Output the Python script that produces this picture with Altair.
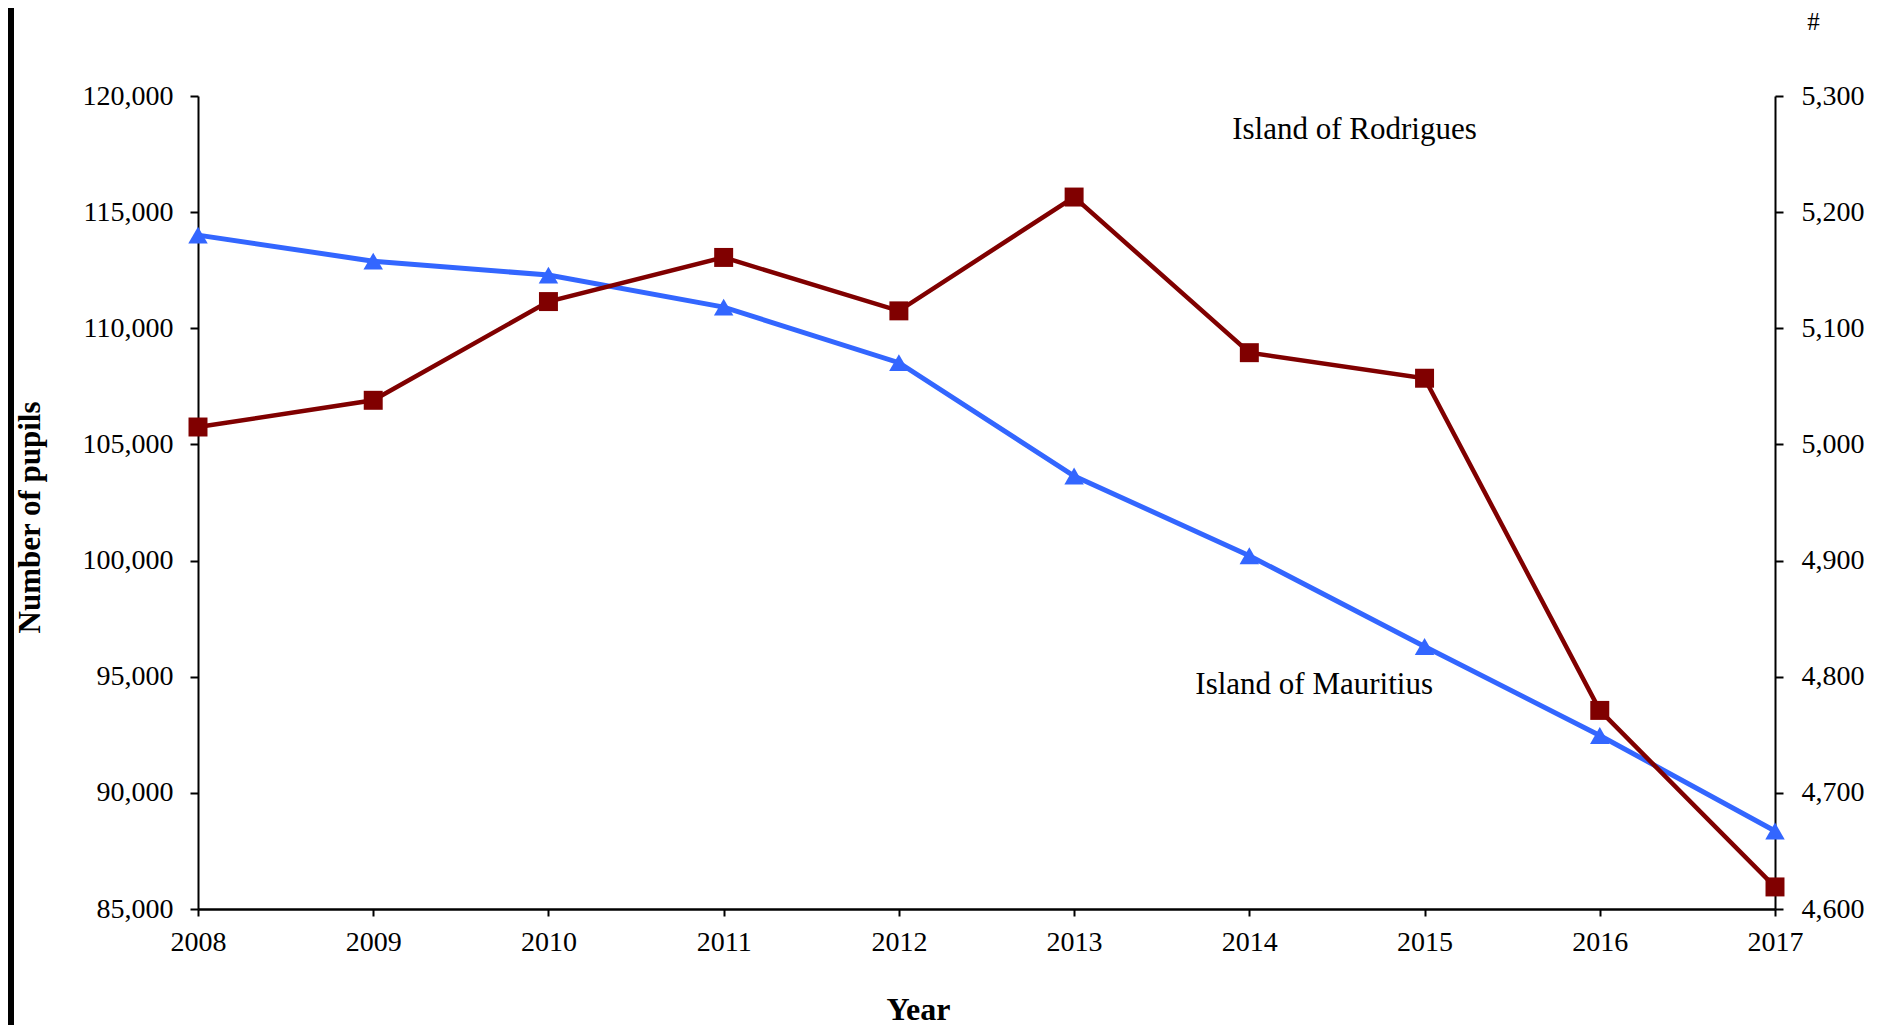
import altair as alt
import pandas as pd

years = [2008, 2009, 2010, 2011, 2012, 2013, 2014, 2015, 2016, 2017]
mauritius = [114010, 112890, 112290, 110910, 108520, 103640, 100210, 96300, 92470, 88360]
rodrigues = [5015, 5038, 5123, 5161, 5115, 5213, 5079, 5057, 4771, 4619]

left_ticks = [85000, 90000, 95000, 100000, 105000, 110000, 115000, 120000]
right_ticks = [4600, 4700, 4800, 4900, 5000, 5100, 5200, 5300]

label_text = ["Island of Mauritius", "Island of Rodrigues"]
label_year = [2014.37, 2014.60]
label_value = [94650, 5271]

FONT = "Liberation Serif"
BLUE = "#3366FF"
RED = "#800000"

df_m = pd.DataFrame({"year": years, "value": mauritius})
df_r = pd.DataFrame({"year": years, "value": rodrigues})
lab_m = pd.DataFrame({"year": [label_year[0]], "value": [label_value[0]], "label": [label_text[0]]})
lab_r = pd.DataFrame({"year": [label_year[1]], "value": [label_value[1]], "label": [label_text[1]]})

W, H = 1577, 813

x_enc = alt.X(
    "year:Q",
    scale=alt.Scale(domain=[2008, 2017], nice=False, zero=False),
    axis=alt.Axis(
        values=years, format="d", title="Year", grid=False,
        labelFont=FONT, labelFontSize=28, labelColor="black", labelPadding=12,
        labelFlush=False, labelOverlap=False,
        tickSize=7, tickWidth=2, tickColor="black",
        domainWidth=2.5, domainColor="black",
        titleFont=FONT, titleFontSize=32, titleFontWeight="bold", titleColor="black",
        titleX=720, titleY=100, titleBaseline="middle", titleAlign="center",
    ),
)

left_axis = alt.Axis(
    values=left_ticks, format=",d", title="Number of pupils", grid=False, orient="left",
    labelFont=FONT, labelFontSize=28, labelColor="black", labelPadding=17,
    labelOverlap=False, labelFlush=False,
    tickSize=8, tickWidth=2, tickColor="black",
    domainWidth=2, domainColor="black",
    titleFont=FONT, titleFontSize=31, titleFontWeight="bold", titleColor="black",
    titleAngle=270, titleX=-168, titleY=421, titleBaseline="middle", titleAlign="center",
)

right_axis = alt.Axis(
    values=right_ticks, format=",d", title="#", grid=False, orient="right",
    labelFont=FONT, labelFontSize=28, labelColor="black", labelPadding=18,
    labelOverlap=False, labelFlush=False,
    tickSize=8, tickWidth=2, tickColor="black",
    domainWidth=2, domainColor="black",
    titleFont=FONT, titleFontSize=25, titleFontWeight="normal", titleColor="black",
    titleAngle=0, titleX=38, titleY=-75, titleBaseline="middle", titleAlign="center",
)

y_m = alt.Y("value:Q", scale=alt.Scale(domain=[85000, 120000], nice=False, zero=False), axis=left_axis)
y_r = alt.Y("value:Q", scale=alt.Scale(domain=[4600, 5300], nice=False, zero=False), axis=right_axis)

base_m = alt.Chart(df_m)
m_line = base_m.mark_line(color=BLUE, strokeWidth=5).encode(x=x_enc, y=y_m)
m_pts = base_m.mark_point(shape="triangle-up", filled=True, color=BLUE, size=380, opacity=1).encode(x=x_enc, y=y_m)
m_lab = alt.Chart(lab_m).mark_text(font=FONT, fontSize=31, color="black", align="center", baseline="middle").encode(
    x=x_enc, y=y_m, text="label:N")
layer_m = alt.layer(m_line, m_pts, m_lab)

base_r = alt.Chart(df_r)
r_line = base_r.mark_line(color=RED, strokeWidth=4.5).encode(x=x_enc, y=y_r)
r_pts = base_r.mark_point(shape="square", filled=True, color=RED, size=360, opacity=1).encode(x=x_enc, y=y_r)
r_lab = alt.Chart(lab_r).mark_text(font=FONT, fontSize=31, color="black", align="center", baseline="middle").encode(
    x=x_enc, y=y_r, text="label:N")
layer_r = alt.layer(r_line, r_pts, r_lab)

border = alt.Chart(pd.DataFrame({"a": [0]})).mark_rule(color="black", strokeWidth=6).encode(
    x=alt.value(-187), y=alt.value(-100), y2=alt.value(940))

chart = alt.layer(layer_m, layer_r, border).resolve_scale(y="independent").properties(
    width=W, height=H,
    autosize=alt.AutoSizeParams(type="none"),
    padding={"left": 190, "top": 88, "right": 102, "bottom": 116},
    background="white",
).configure_view(stroke=None)

chart.save("out.html", embed_options={"renderer": "svg", "actions": False})
